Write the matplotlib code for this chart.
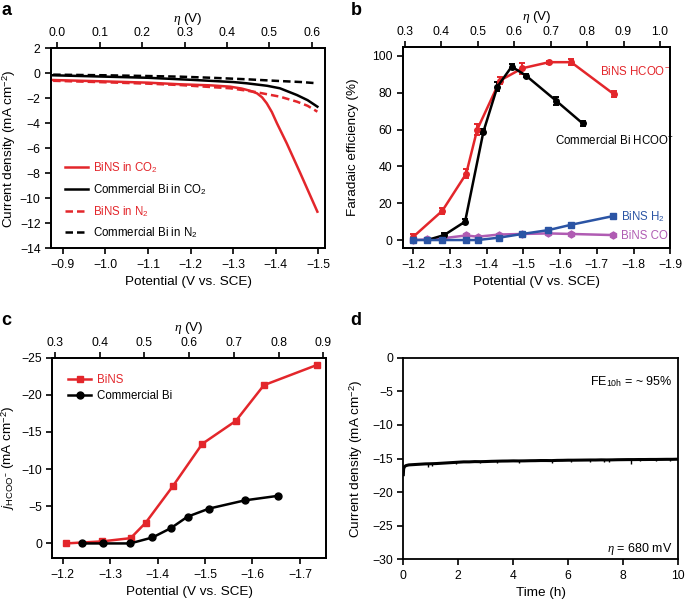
import numpy as np
import matplotlib
matplotlib.use('Agg')
import matplotlib.pyplot as plt

plt.rcParams['font.family'] = ['Liberation Sans', 'DejaVu Sans']
plt.rcParams['font.size'] = 9.7
plt.rcParams['mathtext.fontset'] = 'custom'
plt.rcParams['mathtext.rm'] = 'Liberation Sans'
plt.rcParams['mathtext.it'] = 'Liberation Serif:italic'
plt.rcParams['mathtext.sf'] = 'Liberation Sans:italic'
plt.rcParams['axes.linewidth'] = 1.3
plt.rcParams['xtick.major.width'] = 1.2
plt.rcParams['ytick.major.width'] = 1.2
plt.rcParams['xtick.major.size'] = 4
plt.rcParams['ytick.major.size'] = 4

RED = '#e3262b'
BLUE = '#2b54a4'
MAG = '#b05cb3'
TICK = 8.8
LEG = 8.3

# ---- panel a: LSV curves
E_bins_co2 = [-0.877, -1.0, -1.1, -1.175, -1.25, -1.293, -1.32, -1.34, -1.356, -1.368, -1.379, -1.391,
              -1.403, -1.426, -1.458, -1.498]
j_bins_co2 = [-0.54, -0.65, -0.75, -0.88, -0.97, -1.07, -1.22, -1.4, -1.6, -1.92, -2.4, -3.1,
              -4.0, -5.6, -8.0, -11.07]
E_com_co2 = [-0.877, -1.0, -1.1, -1.2, -1.3, -1.332, -1.38, -1.41, -1.45, -1.475, -1.498]
j_com_co2 = [-0.16, -0.27, -0.36, -0.52, -0.7, -0.8, -1.0, -1.2, -1.74, -2.15, -2.67]
E_bins_n2 = [-0.877, -1.0, -1.1, -1.175, -1.293, -1.348, -1.41, -1.45, -1.475, -1.498]
j_bins_n2 = [-0.6, -0.72, -0.83, -0.94, -1.2, -1.47, -1.87, -2.27, -2.6, -3.07]
E_com_n2 = [-0.877, -1.0, -1.1, -1.175, -1.25, -1.332, -1.41, -1.46, -1.498]
j_com_n2 = [-0.11, -0.16, -0.22, -0.27, -0.36, -0.48, -0.62, -0.7, -0.8]

# ---- panel b: Faradaic efficiency
E_fe_bins = [-1.2, -1.279, -1.344, -1.374, -1.436, -1.497, -1.57, -1.63, -1.746]
fe_bins_hcoo = [1.8, 15.9, 36, 60, 86.6, 93.3, 96.6, 96.6, 79.3]
err_bins_hcoo = [1.5, 1.5, 2.5, 3, 2, 3, 0.8, 1.5, 1.8]
E_fe_com = [-1.238, -1.284, -1.341, -1.391, -1.429, -1.468, -1.507, -1.59, -1.661]
fe_com_hcoo = [0, 2.7, 10, 58.9, 83.3, 94.2, 89.3, 75.5, 63.4]
err_com_hcoo = [0.5, 1, 1.5, 1.5, 2.5, 1.5, 1, 2, 1.5]
E_fe_gas = [-1.2, -1.238, -1.278, -1.344, -1.375, -1.434, -1.497, -1.568, -1.63, -1.744]
fe_bins_h2 = [0, 0, 0, 0, 0, 1.3, 3.3, 5.4, 8.3, 13.0]
err_bins_h2 = [0.3, 0.3, 0.3, 0.3, 0.3, 0.5, 0.5, 0.8, 0.8, 1.2]
fe_bins_co = [0, 0.3, 0.9, 2.5, 1.8, 3.0, 3.3, 3.6, 3.3, 2.7]

# ---- panel c: partial current density of formate
E_j_bins = [-1.206, -1.282, -1.343, -1.375, -1.432, -1.494, -1.565, -1.624, -1.735]
j_bins = [0, -0.27, -0.71, -2.8, -7.7, -13.4, -16.5, -21.3, -24.0]
E_j_com = [-1.24, -1.285, -1.342, -1.389, -1.428, -1.463, -1.509, -1.584, -1.653]
j_com = [0, 0, 0, -0.8, -2.06, -3.6, -4.7, -5.8, -6.4]

# ---- panel d: stability
time_d = [0, 0.01, 0.03, 0.06, 0.1, 0.2, 0.4, 0.6, 0.8, 1.0, 1.2, 1.4, 1.6, 1.8, 2.0,
          2.2, 2.4, 2.6, 2.8, 3.0, 3.2, 3.4, 3.6, 3.8, 4.0, 4.2, 4.4, 4.6, 4.8, 5.0,
          5.2, 5.4, 5.6, 5.8, 6.0, 6.2, 6.4, 6.6, 6.8, 7.0, 7.2, 7.4, 7.6, 7.8, 8.0,
          8.2, 8.4, 8.6, 8.8, 9.0, 9.2, 9.4, 9.6, 9.8, 10.0]
j_d = [-17.4, -16.6, -16.3, -16.15, -16.05, -15.95, -15.9, -15.85, -15.8, -15.78, -15.75, -15.7, -15.65, -15.6, -15.55,
       -15.5, -15.5, -15.46, -15.47, -15.45, -15.42, -15.4, -15.38, -15.37, -15.35, -15.36, -15.35, -15.33, -15.32, -15.3,
       -15.3, -15.31, -15.28, -15.27, -15.25, -15.25, -15.24, -15.23, -15.22, -15.22, -15.2, -15.21, -15.2, -15.18, -15.17,
       -15.16, -15.16, -15.15, -15.15, -15.14, -15.14, -15.13, -15.12, -15.12, -15.1]
spike_t = [0.9, 1.05, 1.9, 2.8, 3.4, 4.2, 5.4, 6.1, 6.8, 7.3, 7.5, 8.3, 8.6, 9.2, 9.7]
spike_j = [-16.3, -16.1, -15.8, -15.7, -15.6, -15.7, -15.65, -15.5, -15.5, -15.45, -15.5, -15.75, -15.4, -15.4, -15.35]

fig = plt.figure(figsize=(6.85, 6.02), dpi=100)

def style(ax, ylab_x):
    ax.tick_params(direction='out', top=False, right=False, labelsize=TICK, pad=3.5)
    for s in ax.spines.values():
        s.set_linewidth(1.3)
    ax.yaxis.set_label_coords(ylab_x, 0.5)
    ax.xaxis.labelpad = 4

def top_axis(ax, lims, ticks):
    axt = ax.twiny()
    axt.set_xlim(*lims)
    axt.set_xticks(ticks)
    axt.set_xlabel(r'$\eta$ (V)', labelpad=4, fontsize=9.7)
    axt.tick_params(direction='out', labelsize=TICK, pad=2.5)
    return axt

# ---------------- a
ax = fig.add_axes([0.0745, 0.5875, 0.400, 0.3323])
ax.plot(E_bins_co2, j_bins_co2, color=RED, lw=1.8, label='BiNS in CO$_2$')
ax.plot(E_com_co2, j_com_co2, color='black', lw=1.8, label='Commercial Bi in CO$_2$')
ax.plot(E_bins_n2, j_bins_n2, color=RED, lw=1.8, ls=(0, (3, 1.6)), label='BiNS in N$_2$')
ax.plot(E_com_n2, j_com_n2, color='black', lw=1.8, ls=(0, (3, 1.6)), label='Commercial Bi in N$_2$')
ax.set_xlim(-0.872, -1.516)
ax.set_ylim(-14, 2)
ax.set_xticks(np.arange(-0.9, -1.51, -0.1))
ax.set_yticks(np.arange(-14, 3, 2))
ax.set_xlabel('Potential (V vs. SCE)')
ax.set_ylabel('Current density (mA cm$^{-2}$)')
style(ax, -0.122)
leg = ax.legend(loc='lower left', bbox_to_anchor=(0.02, 0.0), frameon=False, fontsize=LEG,
                handlelength=2.0, handletextpad=0.5, labelspacing=0.6, borderaxespad=0.3)
for t, c in zip(leg.get_texts(), [RED, 'black', RED, 'black']):
    t.set_color(c)
top_axis(ax, (-0.015, 0.631), np.arange(0, 0.61, 0.1))
fig.text(0.002, 0.983, 'a', fontsize=13, fontweight='bold', va='center')

# ---------------- b
ax = fig.add_axes([0.5879, 0.5875, 0.3905, 0.3349])
kw = dict(lw=1.8, capsize=2.3, elinewidth=1.4, capthick=1.4, ms=4)
ax.errorbar(E_fe_bins, fe_bins_hcoo, yerr=err_bins_hcoo, color=RED, marker='o', **kw)
ax.errorbar(E_fe_com, fe_com_hcoo, yerr=err_com_hcoo, color='black', marker='o', **kw)
ax.errorbar(E_fe_gas, fe_bins_h2, yerr=err_bins_h2, color=BLUE, marker='s', **kw)
ax.plot(E_fe_gas, fe_bins_co, color=MAG, marker='h', lw=1.8, ms=5)
ax.set_xlim(-1.171, -1.9)
ax.set_ylim(-4.5, 105)
ax.set_xticks(np.arange(-1.2, -1.91, -0.1))
ax.set_yticks(np.arange(0, 101, 20))
ax.set_xlabel('Potential (V vs. SCE)')
ax.set_ylabel('Faradaic efficiency (%)')
style(ax, -0.163)
ax.text(-1.708, 91.5, 'BiNS HCOO$^{-}$', color=RED, fontsize=LEG, va='center')
ax.text(-1.5865, 54, 'Commercial Bi HCOO$^{-}$', color='black', fontsize=LEG, va='center')
ax.text(-1.765, 12.7, 'BiNS H$_2$', color=BLUE, fontsize=LEG, va='center')
ax.text(-1.765, 2.3, 'BiNS CO', color=MAG, fontsize=LEG, va='center')
top_axis(ax, (0.294, 1.028), np.arange(0.3, 1.01, 0.1))
fig.text(0.512, 0.983, 'b', fontsize=13, fontweight='bold', va='center')

# ---------------- c
ax = fig.add_axes([0.0764, 0.0726, 0.3995, 0.3332])
ax.plot(E_j_bins, j_bins, color=RED, marker='s', lw=1.8, ms=5, label='BiNS')
ax.plot(E_j_com, j_com, color='black', marker='o', lw=1.8, ms=5, label='Commercial Bi')
ax.set_xlim(-1.178, -1.755)
ax.set_ylim(2, -25)
ax.set_xticks(np.arange(-1.2, -1.71, -0.1))
ax.set_yticks(np.arange(0, -26, -5))
ax.set_xlabel('Potential (V vs. SCE)')
ax.set_ylabel(r'$\mathsf{j}_{\mathrm{HCOO^{-}}}$ (mA cm$^{-2}$)')
style(ax, -0.128)
leg = ax.legend(loc='upper left', bbox_to_anchor=(0.02, 0.97), frameon=False, fontsize=LEG,
                handlelength=2.0, handletextpad=0.5, labelspacing=0.3)
for t, c in zip(leg.get_texts(), [RED, 'black']):
    t.set_color(c)
top_axis(ax, (0.294, 0.906), np.arange(0.3, 0.91, 0.1))
fig.text(0.002, 0.468, 'c', fontsize=13, fontweight='bold', va='center')

# ---------------- d
ax = fig.add_axes([0.5888, 0.0709, 0.401, 0.3349])
ax.plot(time_d, j_d, color='black', lw=2.2)
base = np.interp(spike_t, time_d, j_d)
ax.vlines(spike_t, base, spike_j, color='black', lw=1.0)
ax.set_xlim(0, 10)
ax.set_ylim(-30, 0)
ax.set_xticks(np.arange(0, 11, 2))
ax.set_yticks(np.arange(-30, 1, 5))
ax.set_xlabel('Time (h)')
ax.set_ylabel('Current density (mA cm$^{-2}$)')
style(ax, -0.139)
ax.text(9.8, -3.6, 'FE$_{10\\mathrm{h}}$ = ~ 95%', ha='right', va='center', fontsize=9)
ax.text(9.8, -28.4, r'$\eta$ = 680 mV', ha='right', va='center', fontsize=9)
fig.text(0.512, 0.468, 'd', fontsize=13, fontweight='bold', va='center')

plt.savefig('out.png', dpi=100)
